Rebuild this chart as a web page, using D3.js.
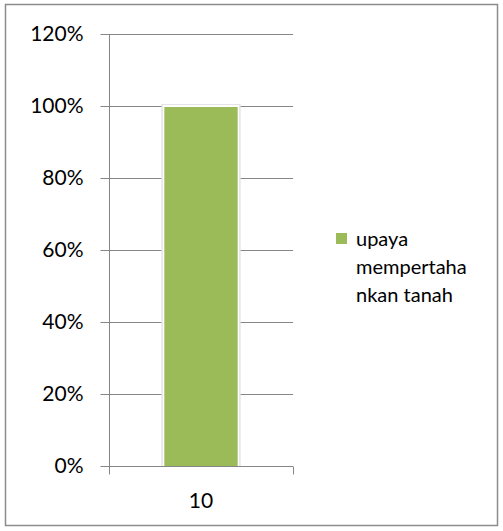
<!DOCTYPE html>
<html>
<head>
<meta charset="utf-8">
<script src="https://cdn.jsdelivr.net/npm/d3@7"></script>
<style>
  body { margin: 0; background: #fff; }
  text { font-family: Lato, "Open Sans", sans-serif; fill: #000; }
</style>
</head>
<body>
<script>
// data
let categories = ["10"];
let values = [1.0];
let seriesName = ["upaya", "mempertaha", "nkan tanah"]; // legend text, wrapped as in the original
let yTicks = [0, 0.2, 0.4, 0.6, 0.8, 1.0, 1.2];

let svgWidth = 503;
let svgHeight = 531;
let margin = {top: 34, bottom: 65, left: 109, right: 210};
let height = svgHeight - margin.top - margin.bottom;
let width = svgWidth - margin.left - margin.right;

let svg = d3.select("body")
            .append("svg")
            .attr("width", svgWidth)
            .attr("height", svgHeight);

// outer frame
svg.append("rect")
   .attr("x", 5.5).attr("y", 4.5)
   .attr("width", 492).attr("height", 521)
   .attr("fill", "none")
   .attr("stroke", "#8c8c8c")
   .attr("stroke-width", 1.5);

let canvas = svg.append("g")
                .attr("transform", "translate(" + margin.left + "," + margin.top + ")");

// scales
let xscale = d3.scaleBand()
  .domain(categories)
  .range([0, width])
  .padding(0.43);
let yscale = d3.scaleLinear()
  .domain([0, 1.2])
  .range([height, 0]);

// gridlines
canvas.append("g")
      .selectAll("line")
      .data(yTicks.filter(d => d > 0))
      .enter()
      .append("line")
        .attr("x1", 0).attr("x2", width)
        .attr("y1", d => Math.round(yscale(d)) + 0.5)
        .attr("y2", d => Math.round(yscale(d)) + 0.5)
        .attr("stroke", "#868686");

// bars (with the soft light outline)
let bars = canvas.selectAll(".bar")
                 .data(values)
                 .enter()
                 .append("g").attr("class", "bar");
bars.append("rect")
    .attr("x", (d, i) => xscale(categories[i]) - 3)
    .attr("y", d => yscale(d) - 2)
    .attr("width", xscale.bandwidth() + 6)
    .attr("height", d => height - yscale(d) + 2)
    .attr("fill", "#e4e4e4");
bars.append("rect")
    .attr("x", (d, i) => xscale(categories[i]) - 1.5)
    .attr("y", d => yscale(d) - 1)
    .attr("width", xscale.bandwidth() + 3)
    .attr("height", d => height - yscale(d) + 1)
    .attr("fill", "#fff");
bars.append("rect")
    .attr("x", (d, i) => xscale(categories[i]))
    .attr("y", d => yscale(d) + 1)
    .attr("width", xscale.bandwidth())
    .attr("height", d => height - yscale(d) - 1)
    .attr("fill", "#9BBB59");

// y axis
let vAxis = d3.axisLeft(yscale)
              .tickValues(yTicks)
              .tickFormat(d3.format(".0%"))
              .tickSize(9)
              .tickPadding(17);
let gy = canvas.append("g").attr("transform", "translate(0.5,0)").call(vAxis);
gy.selectAll("line, path").attr("stroke", "#868686");
gy.select(".domain").attr("d", "M0," + height + "V0");
gy.selectAll("text")
  .style("font-size", "21px")
  .style("font-family", "Lato, sans-serif")
  .attr("fill", "#000");

// x axis
let hAxis = d3.axisBottom(xscale).tickSize(0).tickPadding(27);
let gx = canvas.append("g").attr("transform", "translate(0," + (height + 0.5) + ")").call(hAxis);
gx.select(".domain").attr("stroke", "#868686").attr("d", "M0,0H" + width);
gx.selectAll("text")
  .style("font-size", "21px")
  .style("font-family", "Lato, sans-serif")
  .attr("fill", "#000");
// category edge ticks
gx.selectAll(".edge")
  .data([0, width])
  .enter()
  .append("line")
    .attr("class", "edge")
    .attr("x1", d => d + 0.5).attr("x2", d => d + 0.5)
    .attr("y1", 0).attr("y2", 8)
    .attr("stroke", "#868686");

// legend
let legend = svg.append("g").attr("transform", "translate(336,233)");
legend.append("rect")
      .attr("width", 11).attr("height", 11)
      .attr("fill", "#9BBB59");
legend.selectAll("text")
      .data(seriesName)
      .enter()
      .append("text")
        .attr("x", 20)
        .attr("y", (d, i) => 13 + i * 28)
        .style("font-size", "20px")
        .text(d => d);
</script>
</body>
</html>
